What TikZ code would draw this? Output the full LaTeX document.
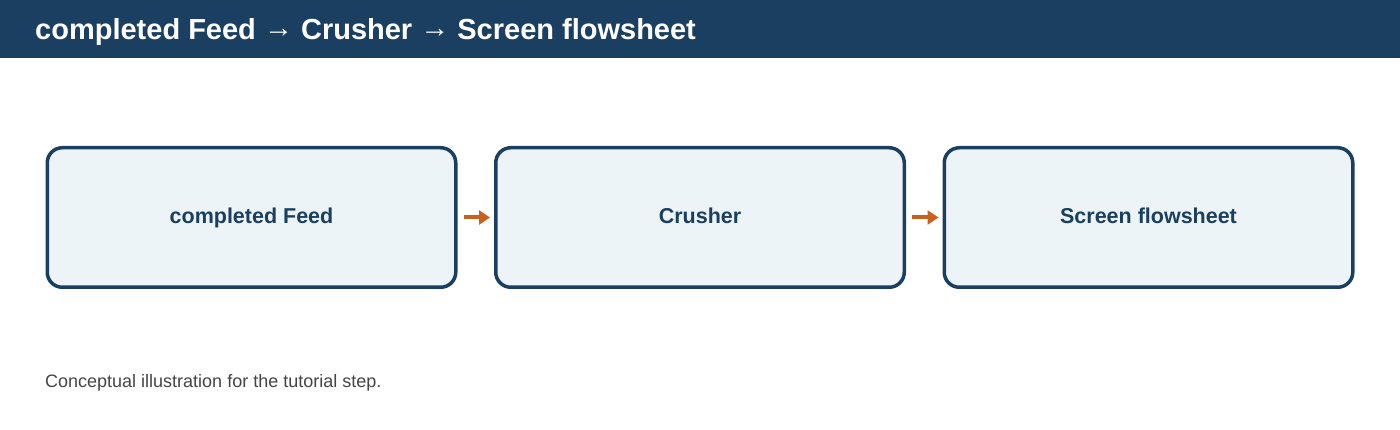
\documentclass[tikz,border=0pt]{standalone}
\usepackage{fontspec}
\setmainfont{Liberation Sans}
\usetikzlibrary{arrows.meta}
\definecolor{navy}{HTML}{1A3F60}
\definecolor{boxfill}{HTML}{EDF4F8}
\definecolor{arrorange}{HTML}{C8601E}
\definecolor{captiongray}{HTML}{444444}
\tikzset{
  stage/.style={draw=navy, line width=3.5pt, fill=boxfill, rounded corners=15pt,
    minimum width=408.5pt, minimum height=139.5pt, inner sep=0pt,
    text height=15.5pt, text depth=4pt,
    text=navy, font=\fontsize{21.5}{25}\selectfont\bfseries},
  flow/.style={draw=arrorange, line width=4pt,
    -{Triangle[length=11pt,width=14pt]}, shorten <=6pt, shorten >=4pt},
}
\begin{document}
\begin{tikzpicture}[x=1pt,y=-1pt]
\useasboundingbox (0,0) rectangle (1400,430);
\fill[navy] (0,0) rectangle (1400,58);
\node[anchor=base west, inner sep=0pt, text=white, font=\fontsize{29}{34}\selectfont\bfseries] (title) at (35,40) {completed Feed \raisebox{2.5pt}{→} Crusher \raisebox{2.5pt}{→} Screen flowsheet};
\node[stage] (feed) at (251.5,217.5) {completed Feed};
\node[stage] (crusher) at (700,217.5) {Crusher};
\node[stage] (screen) at (1148.5,217.5) {Screen flowsheet};
\draw[flow] (feed) -- (crusher);
\draw[flow] (crusher) -- (screen);
\node[anchor=base west, inner sep=0pt, text=captiongray, font=\fontsize{18}{21}\selectfont] (caption) at (45,387) {Conceptual illustration for the tutorial step.};
\end{tikzpicture}
\end{document}
